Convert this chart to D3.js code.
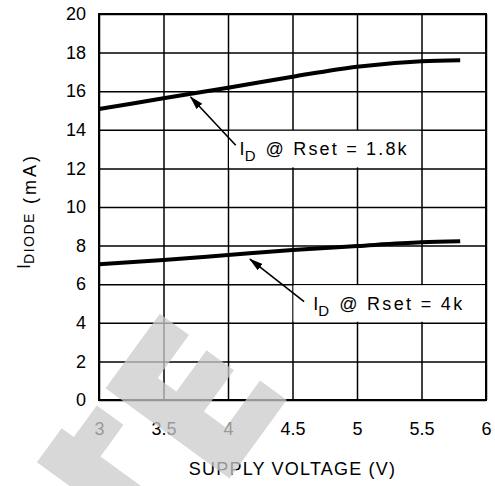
<!DOCTYPE html>
<html>
<head>
<meta charset="utf-8">
<script src="https://cdn.jsdelivr.net/npm/d3@7"></script>
<style>
body{margin:0;background:#fff}
text{font-family:"Liberation Sans",Arial,sans-serif}
</style>
</head>
<body>
<script>

// values
var voltage = [3, 3.5, 4, 4.5, 5, 5.5, 5.8];
var iRset18 = [15.08, 15.63, 16.18, 16.75, 17.27, 17.55, 17.6];
var iRset4  = [7.03, 7.25, 7.51, 7.77, 7.98, 8.17, 8.22];

var xTickLabels = ["3", "3.5", "4", "4.5", "5", "5.5", "6"];
var yTickLabels = ["0", "2", "4", "6", "8", "10", "12", "14", "16", "18", "20"];

var rsetLabels = ["1.8k", "4k"];
// arrow tail / tip in data units [V, mA]
var arrowTail = [[4.06, 13.2], [4.59, 5.1]];
var arrowTip  = [[3.71, 15.7], [4.17, 7.3]];
// label anchor in data units
var labelPos  = [[4.09, 13], [4.66, 5]];

var W = 495, H = 486;

var x = d3.scaleLinear().domain([3, 6]).range([99, 486]);
var y = d3.scaleLinear().domain([0, 20]).range([400, 14]);

var svg = d3.select("body").append("svg")
    .attr("width", W)
    .attr("height", H);

svg.append("defs").append("marker")
    .attr("id", "head")
    .attr("markerUnits", "userSpaceOnUse")
    .attr("markerWidth", 14)
    .attr("markerHeight", 8)
    .attr("refX", 13)
    .attr("refY", 4)
    .attr("orient", "auto")
    .append("path")
    .attr("d", "M0,0 L14,4 L0,8 Z")
    .attr("fill", "#000");

// grid + tick labels
var gx = svg.append("g")
    .attr("transform", "translate(0," + y(0) + ")")
    .call(d3.axisBottom(x)
        .tickValues(xTickLabels.map(Number))
        .tickFormat(function(d, i){ return xTickLabels[i]; })
        .tickSize(-(y(0) - y(20)))
        .tickPadding(22));

var gy = svg.append("g")
    .attr("transform", "translate(" + x(3) + ",0)")
    .call(d3.axisLeft(y)
        .tickValues(yTickLabels.map(Number))
        .tickFormat(function(d, i){ return yTickLabels[i]; })
        .tickSize(-(x(6) - x(3)))
        .tickPadding(13));

[gx, gy].forEach(function(g){
  g.select(".domain").remove();
  g.selectAll(".tick line").attr("stroke", "#000").attr("stroke-width", 1.5);
  g.selectAll(".tick text")
    .attr("fill", "#000")
    .attr("font-size", "18px")
    .attr("font-family", "Liberation Sans, Arial, sans-serif");
});

svg.append("rect")
    .attr("x", x(3))
    .attr("y", y(20))
    .attr("width", x(6) - x(3))
    .attr("height", y(0) - y(20))
    .attr("fill", "none")
    .attr("stroke", "#000")
    .attr("stroke-width", 2);

// white label boxes over the grid
var boxes = [[4, 5.5, 12, 14], [4.5, 6, 4, 6]];
boxes.forEach(function(b){
  svg.append("rect")
    .attr("x", x(b[0]) + 1)
    .attr("y", y(b[3]) + 1)
    .attr("width", x(b[1]) - x(b[0]) - 2)
    .attr("height", y(b[2]) - y(b[3]) - 2)
    .attr("fill", "#fff");
});

// curves
var line = d3.line()
    .x(function(d){ return x(d[0]); })
    .y(function(d){ return y(d[1]); })
    .curve(d3.curveMonotoneX);

[iRset18, iRset4].forEach(function(s){
  svg.append("path")
    .datum(voltage.map(function(v, i){ return [v, s[i]]; }))
    .attr("d", line)
    .attr("fill", "none")
    .attr("stroke", "#000")
    .attr("stroke-width", 4);
});

// arrows
arrowTail.forEach(function(t, i){
  svg.append("line")
    .attr("x1", x(t[0])).attr("y1", y(t[1]))
    .attr("x2", x(arrowTip[i][0])).attr("y2", y(arrowTip[i][1]))
    .attr("stroke", "#000")
    .attr("stroke-width", 1.6)
    .attr("marker-end", "url(#head)");
});

// labels
var restLen = [141, 123];
labelPos.forEach(function(p, i){
  var x0 = x(p[0]), y0 = y(p[1]) + 6;
  var t = svg.append("text")
      .attr("x", x0).attr("y", y0)
      .attr("font-size", "18px");
  t.append("tspan").text("I");
  t.append("tspan").attr("dy", 6).attr("font-size", "15px").text("D");
  svg.append("text")
      .attr("x", x0 + 26).attr("y", y0)
      .attr("font-size", "18px")
      .attr("textLength", restLen[i])
      .attr("lengthAdjust", "spacing")
      .text("@ Rset = " + rsetLabels[i]);
});

// axis titles
svg.append("text")
    .attr("x", (x(3) + x(6)) / 2)
    .attr("y", 475)
    .attr("text-anchor", "middle")
    .attr("font-size", "18px")
    .attr("letter-spacing", "1.2px")
    .text("SUPPLY VOLTAGE (V)");

var yt = svg.append("text")
    .attr("transform", "translate(30,211) rotate(-90)")
    .attr("text-anchor", "middle")
    .attr("font-size", "18px");
yt.append("tspan").text("I");
yt.append("tspan").attr("dy", 4).attr("font-size", "14px").attr("letter-spacing", "1.5px").text("DIODE");
yt.append("tspan").attr("dy", 2).attr("dx", 8).attr("letter-spacing", "3px").text("(mA)");

// watermark
var wm = [
  [[-3,0],[150,0],[150,97],[117,97],[117,39],[90,39],[90,90],[56,90],[56,39],[33,39],[33,92],[-3,92]],
  [[0,-19],[33,-19],[33,-58],[160,-58],[160,-100],[-15,-100],[-15,-58],[0,-58]]
];
var O = [108, 390], U = [0.81, 0.59], V = [0.59, -0.81];
wm.forEach(function(poly){
  svg.append("polygon")
    .attr("points", poly.map(function(q){
      return (O[0] + q[0]*U[0] + q[1]*V[0]) + "," + (O[1] + q[0]*U[1] + q[1]*V[1]);
    }).join(" "))
    .attr("fill", "#cbcbcb")
    .attr("fill-opacity", 0.75);
});

</script>
</body>
</html>
